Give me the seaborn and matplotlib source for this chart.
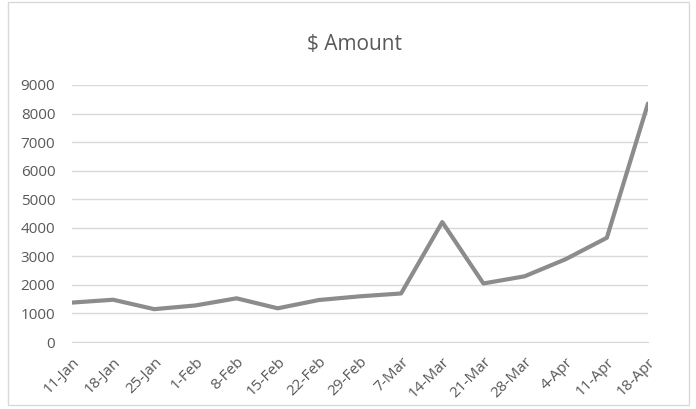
import matplotlib.pyplot as plt
import seaborn as sns
import pandas as pd
from matplotlib.patches import Rectangle

sns.set_style("white")
plt.rcParams['font.family'] = ['Open Sans', 'DejaVu Sans']

weeks = ["11-Jan", "18-Jan", "25-Jan", "1-Feb", "8-Feb", "15-Feb", "22-Feb",
         "29-Feb", "7-Mar", "14-Mar", "21-Mar", "28-Mar", "4-Apr", "11-Apr", "18-Apr"]
amounts = [1380, 1480, 1150, 1280, 1530, 1180, 1470,
           1600, 1700, 4200, 2050, 2300, 2900, 3650, 8350]

data = pd.DataFrame({"week": weeks, "amount": amounts})
data["pos"] = range(len(data))

fig = plt.figure(figsize=(6.96, 4.09), dpi=100)
ax = fig.add_axes([0.1034, 0.1638, 0.8276, 0.6284])

sns.lineplot(x="pos", y="amount", data=data, ax=ax, sort=False,
             color="#8c8c8c", linewidth=3)

ax.set_xlim(0, len(weeks) - 1)
ax.set_ylim(0, 9000)
ax.set_yticks(range(0, 9001, 1000))
ax.set_xticks(data["pos"])
ax.set_xticklabels(weeks, rotation=45, ha="right", rotation_mode="anchor")
ax.tick_params(axis="x", colors="#d9d9d9", length=5, width=1, labelcolor="#595959",
               labelsize=11, pad=4)
ax.tick_params(axis="y", length=0, labelcolor="#595959", labelsize=11, pad=12)
ax.grid(axis="y", color="#d9d9d9", linewidth=1)
ax.set_axisbelow(True)
for side in ["top", "left", "right"]:
    ax.spines[side].set_visible(False)
ax.spines["bottom"].set_color("#d9d9d9")
ax.set_xlabel("")
ax.set_ylabel("")

fig.text(0.51, 0.89, "$ Amount", ha="center", va="center", fontsize=15, color="#595959")

fig.patches.append(Rectangle((0.012, 0.01), 0.978, 0.985, transform=fig.transFigure,
                             fill=False, edgecolor="#d9d9d9", linewidth=1))

fig.savefig("out.png", dpi=100)
